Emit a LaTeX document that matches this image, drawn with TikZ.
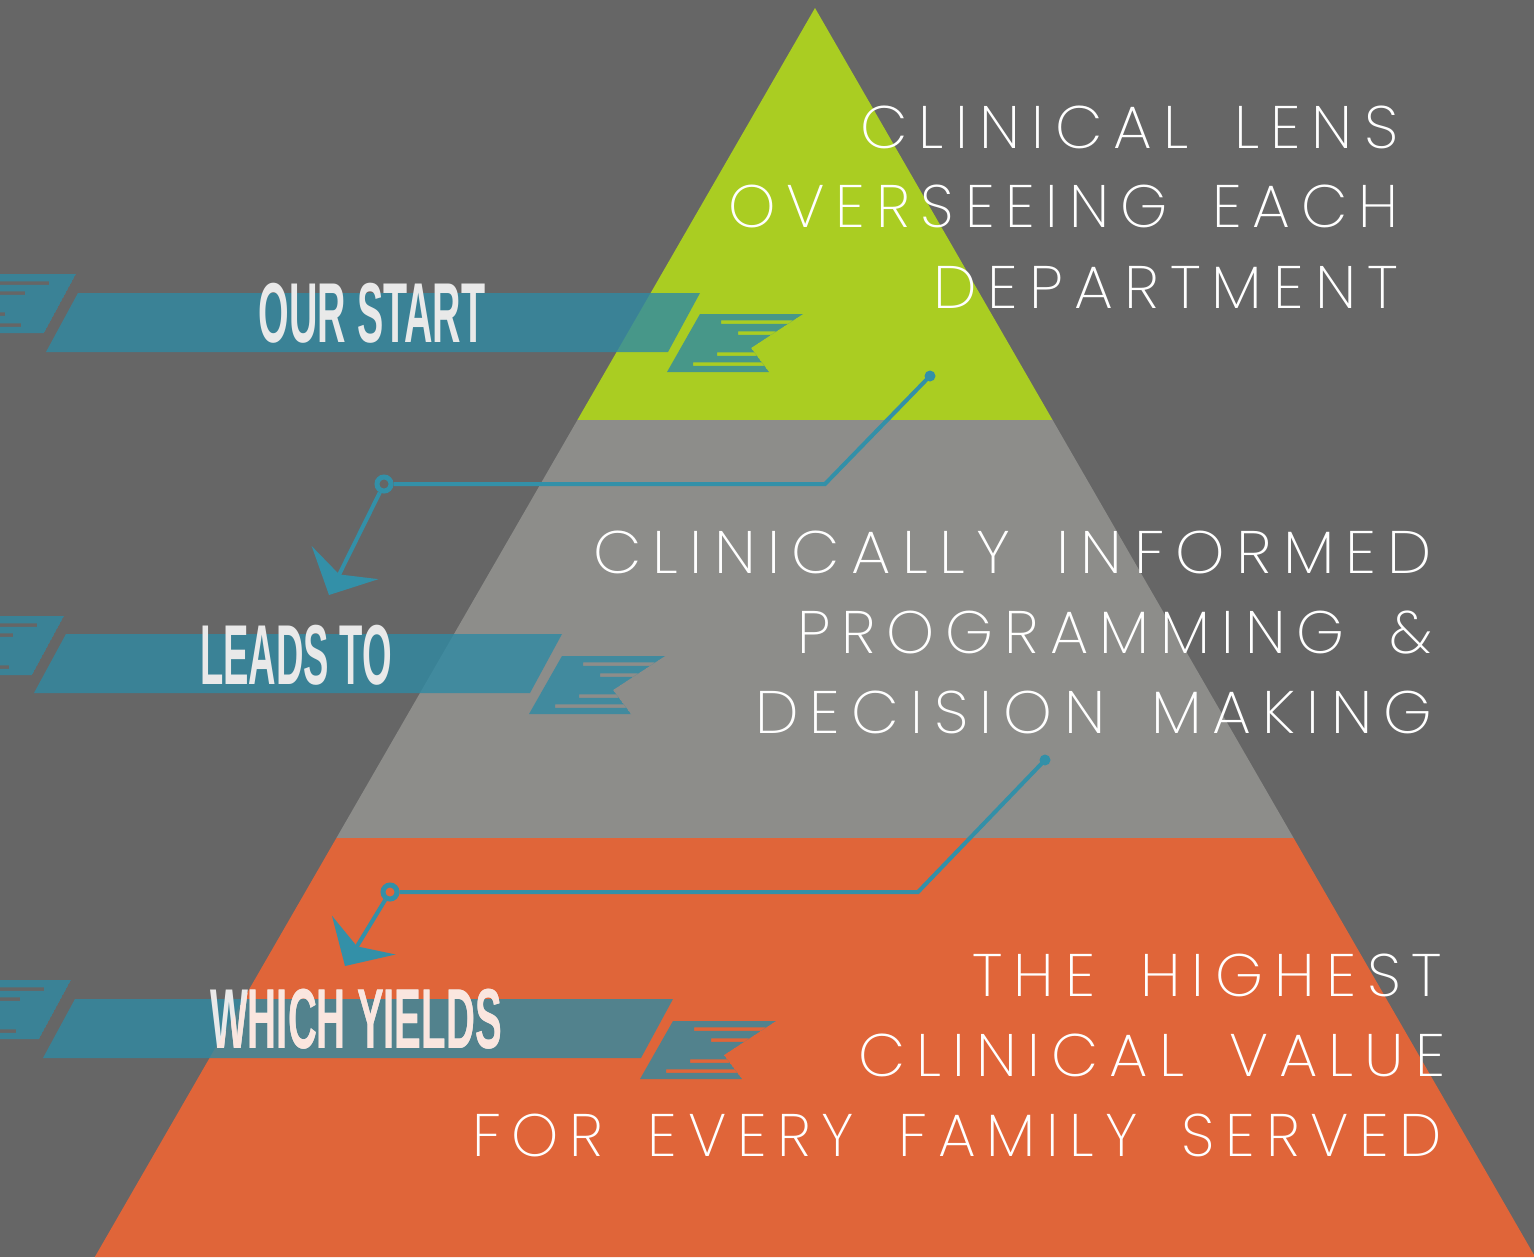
\documentclass[tikz,border=0pt]{standalone}
\usepackage{fontspec}
\usepackage{graphicx}
\usetikzlibrary{arrows.meta}
\IfFontExistsTF{Poppins ExtraLight}
  {\newfontfamily\thinfont{Poppins ExtraLight}[LetterSpace=18,WordSpace=1.6]}
  {\IfFontExistsTF{Poppins Light}
     {\newfontfamily\thinfont{Poppins Light}[LetterSpace=18,WordSpace=1.6]}
     {\newfontfamily\thinfont{Lato}[LetterSpace=18,WordSpace=1.6]}}
\IfFontExistsTF{Liberation Sans Narrow}
  {\newfontfamily\titlefont{Liberation Sans Narrow}}
  {\newfontfamily\titlefont{Liberation Sans}}
\definecolor{bgc}{HTML}{666666}
\definecolor{limec}{HTML}{AACD22}
\definecolor{midgrayc}{HTML}{8D8D8A}
\definecolor{orngc}{HTML}{E06539}
\definecolor{ribbonc}{RGB}{47,138,163}
\definecolor{tlinec}{RGB}{51,144,168}
\definecolor{titlegrayc}{HTML}{E9E9E9}
\definecolor{titlepinkc}{HTML}{FAE6DF}
\newsavebox\fitbox
\newcommand\fitto[2]{\sbox\fitbox{#2}\pgfmathsetmacro\fitsx{(#1)/(\the\wd\fitbox)}\scalebox{\fitsx}[1]{\usebox\fitbox}}
% tail of a ribbon: #1 = x of top-right corner, #2 = y of top
\newcommand\ribbontail[2]{%
  \begin{scope}
    \clip (#1,#2) -- ({#1-32},{#2+59}) -- (-100,{#2+59}) -- (-100,#2) -- cycle;
    \fill[ribbonfill, even odd rule] (#1,#2) -- ({#1-32},{#2+59}) -- (-100,{#2+59}) -- (-100,#2) -- cycle
      (-120,{#2+9-1.75}) rectangle ({#1-27},{#2+9+1.75})
      (-120,{#2+19-1.75}) rectangle ({#1-51},{#2+19+1.75})
      (-120,{#2+40-1.75}) rectangle ({#1-71},{#2+40+1.75})
      (-120,{#2+51-1.75}) rectangle ({#1-55},{#2+51+1.75});
  \end{scope}}
% swallow-tail end piece: #1,#2 = top-left corner
\newcommand\ribbonpiece[2]{%
  \begin{scope}
    \clip (#1,#2) -- ({#1+103},#2) -- ({#1+51},{#2+34}) -- ({#1+69},{#2+58}) -- ({#1-33},{#2+58}) -- cycle;
    \fill[ribbonfill, even odd rule] (#1,#2) -- ({#1+103},#2) -- ({#1+51},{#2+34}) -- ({#1+69},{#2+58}) -- ({#1-33},{#2+58}) -- cycle
      ({#1+21},{#2+8-1.75}) rectangle ({#1+200},{#2+8+1.75})
      ({#1+38},{#2+19-1.75}) rectangle ({#1+200},{#2+19+1.75})
      ({#1+17},{#2+40-1.75}) rectangle ({#1+200},{#2+40+1.75})
      ({#1-7},{#2+50-1.75}) rectangle ({#1+200},{#2+50+1.75});
  \end{scope}}
% main band: #1 = top-left x, #2 = top y, #3 = top-right x
\newcommand\ribbonband[3]{%
  \fill[ribbonfill] (#1,#2) -- (#3,#2) -- ({#3-32},{#2+59}) -- ({#1-32},{#2+59}) -- cycle;}
\tikzset{
  ribbonfill/.style={fill=ribbonc, fill opacity=0.8},
  bodytext/.style={text=white, inner sep=0pt, font=\thinfont\fontsize{60bp}{70bp}\selectfont},
  titletext/.style={text=titlegrayc, inner sep=0pt, font=\titlefont\bfseries\fontsize{85bp}{90bp}\selectfont},
  conn/.style={draw=tlinec, line width=4bp},
  dotnode/.style={circle, fill=tlinec, inner sep=0pt, minimum size=11bp},
  ringnode/.style={circle, draw=tlinec, line width=5bp, inner sep=0pt, minimum size=14bp},
  arrowconn/.style={conn, -{Stealth[length=36bp, width=74bp, inset=13bp]}}
}
\begin{document}
\begin{tikzpicture}[x=1bp,y=-1bp]
\useasboundingbox (0,0) rectangle (1534,1257);
\fill[bgc] (0,0) rectangle (1534,1257);
% pyramid
\fill[limec] (815,8) -- (1052.6,420) -- (577.4,420) -- cycle;
\fill[midgrayc] (577.4,420) -- (1052.6,420) -- (1293.6,838) -- (336.4,838) -- cycle;
\fill[orngc] (336.4,838) -- (1293.6,838) -- (1535.2,1257) -- (94.8,1257) -- cycle;
% texts
\node[bodytext, anchor=base west] (a1) at (860,148) {\fitto{538bp}{CLINICAL LENS}};
\node[bodytext, anchor=base west] (a2) at (728,227) {\fitto{670bp}{OVERSEEING EACH}};
\node[bodytext, anchor=base west] (a3) at (933,308) {\fitto{465bp}{DEPARTMENT}};
\node[bodytext, anchor=base west] (b1) at (593,573) {\fitto{839bp}{CLINICALLY INFORMED}};
\node[bodytext, anchor=base west] (b2) at (797,653) {\fitto{635bp}{PROGRAMMING \&}};
\node[bodytext, anchor=base west] (b3) at (755,733) {\fitto{677bp}{DECISION MAKING}};
\node[bodytext, anchor=base west] (c1) at (972,996) {\fitto{470bp}{THE HIGHEST}};
\node[bodytext, anchor=base west] (c2) at (858,1076) {\fitto{587bp}{CLINICAL VALUE}};
\node[bodytext, anchor=base west] (c3) at (472,1156) {\fitto{970bp}{FOR EVERY FAMILY SERVED}};
% ribbons
\ribbontail{76}{274}
\ribbonband{78}{293}{700}
\ribbonpiece{700}{314}
\ribbontail{64}{616}
\ribbonband{66}{634}{562}
\ribbonpiece{562}{656}
\ribbontail{71}{980}
\ribbonband{75}{999}{673}
\ribbonpiece{673}{1021}
% titles
\node[titletext, anchor=base] (t1) at (372,342) {\fitto{227bp}{OUR START}};
\node[titletext, anchor=base] (t2) at (296,684) {\fitto{192bp}{LEADS TO}};
\node[titletext, anchor=base] (t3) at (356,1048) {\fitto{292bp}{WHICH YIELDS}};
\begin{scope}
  \clip (336.4,838) -- (1293.6,838) -- (1535.2,1257) -- (94.8,1257) -- cycle;
  \node[titletext, text=titlepinkc, anchor=base] (t3p) at (356,1048) {\fitto{292bp}{WHICH YIELDS}};
\end{scope}
% connectors
\node[dotnode] (dot1) at (930,376) {};
\coordinate (elb1) at (825,484);
\node[ringnode] (ring1) at (384,484) {};
\coordinate (tip1) at (329,595);
\draw[conn] (dot1.center) -- (elb1) -- (ring1.east);
\draw[arrowconn] (ring1) -- (tip1);
\node[dotnode] (dot2) at (1045,760) {};
\coordinate (elb2) at (918,892);
\node[ringnode] (ring2) at (390,892) {};
\coordinate (tip2) at (345,966);
\draw[conn] (dot2.center) -- (elb2) -- (ring2.east);
\draw[arrowconn] (ring2) -- (tip2);
\end{tikzpicture}
\end{document}
